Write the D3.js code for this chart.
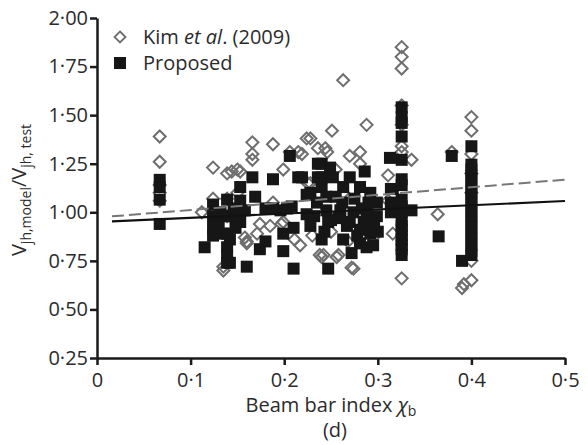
<!DOCTYPE html>
<html>
<head>
<meta charset="utf-8">
<script src="https://cdn.jsdelivr.net/npm/d3@7"></script>
<style>
  body { margin: 0; background: #fff; }
  text { font-family: "Open Sans", sans-serif; fill: #2b2b2b; }
</style>
</head>
<body>
<div id="chart"></div>
<script>
// Données : [indice chi_b, Vmodel/Vtest]
const kimData = [
  [0.067,1.39],[0.067,1.26],[0.067,1.10],[0.067,1.06],[0.067,1.14],
  [0.112,1.00],[0.124,1.23],[0.124,1.07],[0.124,1.00],[0.135,0.70],[0.135,0.72],
  [0.139,1.07],[0.139,1.20],[0.139,0.98],[0.144,1.21],[0.150,1.22],[0.150,1.10],
  [0.153,1.21],[0.160,0.84],[0.160,0.85],[0.158,0.87],[0.166,1.36],[0.166,1.30],
  [0.166,1.27],[0.171,0.89],[0.174,0.94],[0.185,0.93],[0.188,1.35],[0.188,1.05],
  [0.199,1.22],[0.199,0.95],[0.197,0.94],[0.206,1.31],[0.211,0.86],[0.215,1.31],
  [0.219,1.30],[0.224,1.38],[0.225,1.15],[0.228,1.38],[0.228,1.15],[0.236,1.33],
  [0.238,0.78],[0.240,0.77],[0.242,0.78],[0.244,1.33],[0.246,1.31],[0.251,1.42],
  [0.256,0.77],[0.258,0.78],[0.263,1.68],[0.263,1.10],[0.272,0.715],[0.274,0.71],
  [0.281,1.31],[0.281,1.25],[0.288,1.45],[0.311,1.19],[0.311,1.06],[0.316,0.89],
  [0.3255,1.85],[0.3255,1.80],[0.3255,1.74],[0.3255,1.55],[0.3255,1.45],[0.3255,1.34],
  [0.3255,1.31],[0.3255,0.66],[0.3255,1.00],[0.336,1.27],[0.364,0.99],[0.379,1.31],
  [0.390,0.61],[0.392,0.63],[0.400,1.49],[0.400,1.42],[0.400,1.30],[0.400,0.75],
  [0.400,0.65],[0.400,1.20],[0.400,1.10],[0.217,0.83],[0.230,0.88],[0.250,0.90],
  [0.268,0.85],[0.295,0.87],[0.270,1.29],[0.255,1.22]
];

const propData = [
  [0.067,1.167],[0.067,1.13],[0.067,1.065],[0.067,0.94],
  [0.115,0.82],[0.124,1.04],[0.124,0.98],[0.124,0.92],[0.124,0.88],[0.135,0.89],
  [0.139,1.065],[0.139,0.98],[0.139,0.89],[0.139,0.82],[0.139,0.74],[0.139,0.78],
  [0.142,0.74],[0.142,0.86],[0.142,0.98],[0.153,1.13],[0.153,1.06],[0.153,1.01],
  [0.153,0.95],[0.158,1.01],[0.160,0.72],[0.166,1.18],[0.169,1.08],[0.174,0.81],
  [0.180,1.02],[0.180,0.85],[0.188,1.17],[0.188,1.02],[0.196,1.01],[0.199,0.89],
  [0.199,0.80],[0.203,1.02],[0.206,1.29],[0.208,1.03],[0.210,0.92],[0.210,0.71],
  [0.215,1.18],[0.219,1.18],[0.224,1.09],[0.224,0.99],[0.228,1.10],[0.235,1.05],
  [0.236,1.25],[0.236,1.18],[0.240,1.25],[0.240,1.18],[0.240,1.13],[0.240,0.86],
  [0.245,1.01],[0.247,0.71],[0.247,0.95],[0.249,1.23],[0.252,1.18],[0.260,1.01],
  [0.263,1.13],[0.263,0.86],[0.267,0.93],[0.270,1.18],[0.272,0.79],[0.274,1.00],
  [0.281,1.13],[0.281,0.91],[0.281,0.84],[0.286,1.21],[0.288,1.00],[0.288,0.82],
  [0.292,1.10],[0.292,0.89],[0.295,0.83],[0.299,1.05],[0.299,0.98],[0.313,1.28],
  [0.314,1.12],[0.314,1.05],[0.314,1.00],[0.316,1.12],
  [0.3255,1.54],[0.3255,1.49],[0.3255,1.46],[0.3255,1.39],[0.3255,1.27],[0.3255,1.17],
  [0.3255,1.14],[0.3255,1.065],[0.3255,1.03],[0.3255,1.00],[0.3255,0.96],[0.3255,0.93],
  [0.3255,0.91],[0.3255,0.88],[0.3255,0.86],[0.3255,0.83],[0.3255,0.81],[0.3255,0.78],
  [0.336,1.01],[0.365,0.876],[0.379,1.29],[0.390,0.75],
  [0.400,1.34],[0.400,1.245],[0.400,1.22],[0.400,1.19],[0.400,1.16],[0.400,1.13],
  [0.400,1.10],[0.400,1.07],[0.400,1.04],[0.400,1.01],[0.400,0.98],[0.400,0.95],
  [0.400,0.92],[0.400,0.89],[0.400,0.86],[0.400,0.83],[0.400,0.80],[0.400,0.78],
  [0.255,1.08],[0.258,0.97],[0.262,1.05],[0.270,0.95],[0.275,1.07],[0.278,0.88],
  [0.283,1.02],[0.285,0.95],[0.290,1.05],[0.296,0.95],[0.300,0.90],[0.245,1.08],
  [0.243,0.90],[0.250,0.96],[0.232,0.98],[0.228,0.93],[0.146,1.02],[0.148,0.92],
  [0.130,0.95],[0.132,1.00]
];

// Droites de tendance (début, fin)
const kimTrend = [[0.016,0.979],[0.5,1.168]];
const propTrend = [[0.016,0.953],[0.5,1.058]];

const xTicks = [0, 0.1, 0.2, 0.3, 0.4, 0.5];
const yTicks = [0.25, 0.5, 0.75, 1.0, 1.25, 1.5, 1.75, 2.0];

const W = 588, H = 445;
const svg = d3.select("#chart").append("svg")
    .attr("width", W)
    .attr("height", H);

const x = d3.scaleLinear().domain([0, 0.5]).range([97, 565]);
const y = d3.scaleLinear().domain([0.25, 2.0]).range([358, 18]);

const dot = s => s.replace(".", "·");

// Axes
const xAxis = svg.append("g")
    .attr("transform", `translate(0,${y(0.25)})`)
    .call(d3.axisBottom(x).tickValues(xTicks).tickSize(7).tickSizeOuter(0)
        .tickFormat(d => d === 0 ? "0" : dot(d3.format(".1f")(d))));
const yAxis = svg.append("g")
    .attr("transform", `translate(${x(0)},0)`)
    .call(d3.axisLeft(y).tickValues(yTicks).tickSize(7).tickSizeOuter(0)
        .tickFormat(d => dot(d3.format(".2f")(d))));

[xAxis, yAxis].forEach(a => {
  a.select(".domain").attr("stroke", "#1a1a1a").attr("stroke-width", 2.5);
  a.selectAll(".tick line").attr("stroke", "#1a1a1a").attr("stroke-width", 2.5);
  a.selectAll(".tick text")
      .attr("font-size", "20px")
      .attr("font-family", "Open Sans, sans-serif")
      .attr("fill", "#2b2b2b");
});
xAxis.selectAll(".tick text").attr("dy", "0.95em");
yAxis.selectAll(".tick text").attr("x", -9);

// Points Kim et al. (losanges)
const diamond = "M0,-6L6,0L0,6L-6,0Z";
svg.append("g")
    .selectAll("path")
    .data(kimData)
    .enter().append("path")
    .attr("d", diamond)
    .attr("transform", d => `translate(${x(d[0])},${y(d[1])})`)
    .attr("fill", "none")
    .attr("stroke", "#6e6e6e")
    .attr("stroke-width", 2);

// Points proposés (carrés)
svg.append("g")
    .selectAll("rect")
    .data(propData)
    .enter().append("rect")
    .attr("x", d => x(d[0]) - 6)
    .attr("y", d => y(d[1]) - 6)
    .attr("width", 12)
    .attr("height", 12)
    .attr("fill", "#161616");

// Tendances
const line = d3.line().x(d => x(d[0])).y(d => y(d[1]));
svg.append("path")
    .attr("d", line(kimTrend))
    .attr("fill", "none")
    .attr("stroke", "#777")
    .attr("stroke-width", 2)
    .attr("stroke-dasharray", "12,5");
svg.append("path")
    .attr("d", line(propTrend))
    .attr("fill", "none")
    .attr("stroke", "#111")
    .attr("stroke-width", 2.2);

// Légende
svg.append("path")
    .attr("d", "M0,-5.5L5.5,0L0,5.5L-5.5,0Z")
    .attr("transform", "translate(120,37)")
    .attr("fill", "none")
    .attr("stroke", "#6e6e6e")
    .attr("stroke-width", 1.8);
svg.append("rect")
    .attr("x", 114).attr("y", 57)
    .attr("width", 12).attr("height", 12)
    .attr("fill", "#161616");

const leg1 = svg.append("text").attr("x", 143).attr("y", 44).attr("font-size", "20px");
leg1.append("tspan").text("Kim ");
leg1.append("tspan").attr("font-style", "italic").text("et al");
leg1.append("tspan").text(". (2009)");
svg.append("text").attr("x", 143).attr("y", 70).attr("font-size", "20px").text("Proposed");

// Titres des axes
const xl = svg.append("text")
    .attr("x", 331).attr("y", 412)
    .attr("text-anchor", "middle")
    .attr("font-size", "20px");
xl.append("tspan").text("Beam bar index ");
xl.append("tspan").attr("font-style", "italic").text("χ");
xl.append("tspan").attr("font-size", "14px").attr("dy", 4).text("b");

svg.append("text")
    .attr("x", 335).attr("y", 437)
    .attr("text-anchor", "middle")
    .attr("font-size", "20px")
    .text("(d)");

const yl = svg.append("text")
    .attr("transform", "translate(26,190) rotate(-90)")
    .attr("text-anchor", "middle")
    .attr("font-size", "20px");
yl.append("tspan").text("V");
yl.append("tspan").attr("font-size", "14px").attr("dy", 5).text("jh,model");
yl.append("tspan").attr("dy", -5).text("/V");
yl.append("tspan").attr("font-size", "14px").attr("dy", 5).text("jh, test");
</script>
</body>
</html>
